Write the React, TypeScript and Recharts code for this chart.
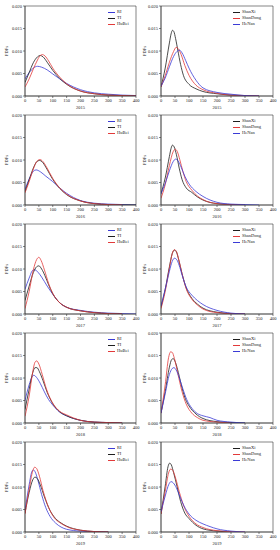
import { LineChart, Line, XAxis, YAxis, ReferenceArea } from "recharts";

// [x, PDF] pairs
const ri2015 = [[0, 0.0038], [15, 0.0052], [30, 0.0062], [45, 0.0066], [60, 0.0064], [80, 0.0058], [100, 0.0049], [125, 0.0038], [150, 0.0028], [200, 0.0014], [250, 0.0007], [300, 0.0004], [350, 0.0002], [400, 0.0001]];
const ti2015 = [[0, 0.003], [15, 0.0052], [30, 0.0074], [45, 0.0087], [55, 0.009], [65, 0.0087], [80, 0.0075], [100, 0.0057], [125, 0.0039], [150, 0.0026], [200, 0.0011], [250, 0.0005], [300, 0.0002], [350, 0.0001], [400, 0]];
const hubei2015 = [[0, 0.002], [15, 0.0038], [30, 0.006], [45, 0.008], [55, 0.009], [63, 0.0092], [72, 0.0089], [85, 0.0078], [100, 0.0062], [125, 0.0042], [150, 0.0027], [200, 0.0011], [250, 0.0005], [300, 0.0002], [350, 0.0001], [400, 0]];
const shanxi2015 = [[0, 0.002], [15, 0.0062], [30, 0.0118], [36, 0.0138], [41, 0.0146], [46, 0.0143], [52, 0.0128], [60, 0.0102], [70, 0.007], [80, 0.0046], [100, 0.0026], [125, 0.0016], [150, 0.001], [200, 0.0005], [250, 0.0002], [300, 0.0001], [350, 0]];
const shandong2015 = [[0, 0.002], [15, 0.0045], [30, 0.0075], [45, 0.0099], [54, 0.0108], [62, 0.0105], [72, 0.0092], [85, 0.0068], [100, 0.0046], [125, 0.0024], [150, 0.0014], [200, 0.0006], [250, 0.0002], [300, 0.0001], [350, 0]];
const henan2015 = [[0, 0.0022], [15, 0.004], [30, 0.0065], [45, 0.0088], [57, 0.0099], [66, 0.0102], [75, 0.0096], [88, 0.0079], [100, 0.0062], [125, 0.0035], [150, 0.0018], [200, 0.0008], [250, 0.0004], [300, 0.0001], [350, 0]];

const ri2016 = [[0, 0.0035], [15, 0.0058], [30, 0.0075], [40, 0.0078], [55, 0.0074], [75, 0.0064], [100, 0.0052], [125, 0.0038], [150, 0.0026], [200, 0.001], [250, 0.0004], [300, 0.0002], [350, 0.0001], [400, 0]];
const ti2016 = [[0, 0.003], [15, 0.0056], [30, 0.0082], [42, 0.0096], [52, 0.0099], [62, 0.0096], [75, 0.0084], [100, 0.0057], [125, 0.0037], [150, 0.0023], [200, 0.0009], [250, 0.0003], [300, 0.0001], [350, 0], [400, 0]];
const hubei2016 = [[0, 0.0027], [15, 0.0052], [30, 0.008], [43, 0.0097], [54, 0.0101], [64, 0.0097], [77, 0.0085], [100, 0.0059], [125, 0.0038], [150, 0.0024], [200, 0.0009], [250, 0.0003], [300, 0.0001], [350, 0]];
const shanxi2016 = [[0, 0.0025], [15, 0.006], [30, 0.0108], [36, 0.0126], [41, 0.0133], [47, 0.0129], [55, 0.0112], [65, 0.0082], [75, 0.0057], [90, 0.0038], [110, 0.0028], [130, 0.0018], [150, 0.0011], [200, 0.0003], [250, 0.0001], [300, 0]];
const shandong2016 = [[0, 0.0015], [15, 0.0045], [30, 0.0088], [43, 0.0118], [51, 0.0124], [58, 0.0119], [67, 0.0101], [78, 0.0075], [90, 0.0052], [110, 0.0033], [130, 0.002], [150, 0.0012], [200, 0.0003], [250, 0.0001], [300, 0]];
const henan2016 = [[0, 0.0025], [15, 0.0048], [30, 0.0076], [43, 0.0096], [52, 0.0102], [61, 0.0098], [72, 0.0084], [85, 0.0064], [100, 0.0047], [125, 0.003], [150, 0.0019], [200, 0.0006], [250, 0.0002], [300, 0.0001], [350, 0]];

const ri2017 = [[0, 0.0055], [15, 0.008], [28, 0.0097], [36, 0.0098], [48, 0.0092], [60, 0.0082], [80, 0.0062], [100, 0.0044], [125, 0.0025], [150, 0.0015], [200, 0.0008], [250, 0.0004], [300, 0.0002], [350, 0.0001], [400, 0]];
const ti2017 = [[0, 0.003], [15, 0.0062], [30, 0.0092], [42, 0.0105], [50, 0.0107], [60, 0.01], [72, 0.0085], [85, 0.0065], [100, 0.0045], [125, 0.0025], [150, 0.0015], [200, 0.0007], [250, 0.0003], [300, 0.0001], [350, 0]];
const hubei2017 = [[0, 0.0012], [15, 0.005], [30, 0.0098], [42, 0.0121], [50, 0.0126], [58, 0.0119], [70, 0.0098], [85, 0.0068], [100, 0.0046], [125, 0.0025], [150, 0.0015], [200, 0.0007], [250, 0.0003], [300, 0.0001], [350, 0]];
const shanxi2017 = [[0, 0.0015], [15, 0.0055], [30, 0.0105], [40, 0.0134], [48, 0.0142], [55, 0.0138], [63, 0.0121], [75, 0.009], [90, 0.0058], [110, 0.0035], [130, 0.0022], [150, 0.0013], [200, 0.0004], [250, 0.0001], [300, 0]];
const shandong2017 = [[0, 0.0012], [15, 0.005], [30, 0.0102], [40, 0.0134], [48, 0.0143], [55, 0.0139], [63, 0.0122], [75, 0.009], [90, 0.0056], [110, 0.0033], [130, 0.002], [150, 0.0011], [200, 0.0003], [250, 0.0001], [300, 0]];
const henan2017 = [[0, 0.0018], [15, 0.0055], [30, 0.0095], [40, 0.0117], [48, 0.0124], [56, 0.0121], [65, 0.0108], [75, 0.0087], [90, 0.006], [110, 0.0042], [130, 0.003], [150, 0.0021], [200, 0.0008], [250, 0.0002], [300, 0]];

const ri2018 = [[0, 0.005], [15, 0.0085], [25, 0.0102], [32, 0.0106], [42, 0.0101], [55, 0.0088], [70, 0.0069], [85, 0.0052], [100, 0.004], [125, 0.0024], [150, 0.0016], [200, 0.0006], [250, 0.0002], [300, 0.0001], [350, 0]];
const ti2018 = [[0, 0.003], [15, 0.0075], [28, 0.0112], [36, 0.0123], [43, 0.0123], [52, 0.0114], [65, 0.0094], [80, 0.0068], [100, 0.0043], [125, 0.0025], [150, 0.0016], [200, 0.0006], [250, 0.0002], [300, 0.0001], [350, 0]];
const hubei2018 = [[0, 0.0015], [15, 0.006], [28, 0.0114], [36, 0.0135], [42, 0.0138], [50, 0.0131], [62, 0.0108], [77, 0.0076], [100, 0.0044], [125, 0.0026], [150, 0.0018], [200, 0.0006], [250, 0.0002], [300, 0.0001], [350, 0]];
const shanxi2018 = [[0, 0.0022], [15, 0.007], [30, 0.0124], [38, 0.0141], [44, 0.0143], [52, 0.0134], [62, 0.0112], [75, 0.0078], [88, 0.0052], [100, 0.0038], [125, 0.002], [150, 0.001], [200, 0.0003], [250, 0.0001], [300, 0]];
const shandong2018 = [[0, 0.0022], [15, 0.0085], [27, 0.0145], [34, 0.0158], [40, 0.0157], [48, 0.0143], [60, 0.011], [75, 0.007], [90, 0.0042], [110, 0.0022], [130, 0.0012], [150, 0.0006], [200, 0.0002], [250, 0]];
const henan2018 = [[0, 0.0022], [15, 0.0065], [30, 0.0108], [40, 0.0121], [46, 0.0123], [54, 0.0118], [65, 0.0101], [78, 0.0076], [92, 0.0052], [110, 0.0033], [130, 0.0021], [150, 0.0016], [175, 0.0012], [200, 0.0006], [250, 0.0002], [300, 0]];

const ri2019 = [[0, 0.0048], [15, 0.0105], [24, 0.0133], [30, 0.0138], [37, 0.0133], [47, 0.0114], [60, 0.0083], [75, 0.0054], [90, 0.0035], [110, 0.002], [130, 0.0011], [150, 0.0006], [200, 0.0002], [250, 0.0001], [300, 0]];
const ti2019 = [[0, 0.0042], [15, 0.0088], [28, 0.0116], [36, 0.0122], [44, 0.0119], [55, 0.0105], [70, 0.0078], [90, 0.0048], [110, 0.003], [130, 0.002], [150, 0.0013], [200, 0.0004], [250, 0.0001], [300, 0]];
const hubei2019 = [[0, 0.004], [15, 0.0095], [28, 0.0136], [35, 0.0144], [42, 0.0141], [52, 0.0124], [65, 0.0092], [85, 0.0055], [105, 0.0032], [130, 0.0019], [150, 0.0012], [200, 0.0004], [250, 0.0001], [300, 0]];
const shanxi2019 = [[0, 0.004], [15, 0.0102], [25, 0.0145], [31, 0.0153], [37, 0.0149], [45, 0.0132], [57, 0.0102], [70, 0.0068], [85, 0.0042], [100, 0.003], [125, 0.0015], [150, 0.0007], [200, 0.0002], [250, 0]];
const shandong2019 = [[0, 0.004], [15, 0.009], [27, 0.0131], [35, 0.014], [42, 0.0137], [52, 0.012], [65, 0.009], [80, 0.006], [100, 0.0035], [125, 0.0018], [150, 0.001], [200, 0.0003], [250, 0.0001], [300, 0]];
const henan2019 = [[0, 0.0045], [15, 0.008], [28, 0.0106], [36, 0.0112], [44, 0.0109], [55, 0.0098], [68, 0.0078], [82, 0.0058], [100, 0.004], [125, 0.0026], [150, 0.0018], [175, 0.0012], [200, 0.0007], [250, 0.0002], [300, 0]];

const years = ["2015", "2016", "2017", "2018", "2019"];
const xTicks = [0, 50, 100, 150, 200, 250, 300, 350, 400];
const yTicks = [0, 0.005, 0.01, 0.015, 0.02];
const leftNames = ["RI", "TI", "HuBei"];
const rightNames = ["ShanXi", "ShanDong", "HeNan"];
const leftColors = ["#3b3bd6", "#1e1e1e", "#e23a3a"];
const rightColors = ["#1e1e1e", "#e23a3a", "#3b3bd6"];

const leftData = [
  [ri2015, ti2015, hubei2015],
  [ri2016, ti2016, hubei2016],
  [ri2017, ti2017, hubei2017],
  [ri2018, ti2018, hubei2018],
  [ri2019, ti2019, hubei2019],
];
const rightData = [
  [shanxi2015, shandong2015, henan2015],
  [shanxi2016, shandong2016, henan2016],
  [shanxi2017, shandong2017, henan2017],
  [shanxi2018, shandong2018, henan2018],
  [shanxi2019, shandong2019, henan2019],
];

const FONT = "'Liberation Serif', 'DejaVu Serif', serif";
const W = 140;
const H = 110;

const toPts = (a: number[][]) => a.map(([x, y]) => ({ x, y }));

function Panel({ year, sets, names, colors, right }: { year: string; sets: number[][][]; names: string[]; colors: string[]; right: boolean }) {
  const yw = right ? 21 : 25;
  const tick = { fontSize: 4.5, fontFamily: FONT, fill: "#222" };
  return (
    <div style={{ position: "relative", width: W, height: H }}>
      <LineChart width={W} height={H} margin={{ top: 6, right: right ? 7 : 4, left: 0, bottom: 0 }}>
        <XAxis
          dataKey="x"
          type="number"
          domain={[0, 400]}
          ticks={xTicks}
          allowDataOverflow
          height={14}
          tickSize={2}
          tickMargin={1}
          tick={tick}
          stroke="#333"
          strokeWidth={0.6}
          interval={0}
          label={{ value: year, position: "insideBottom", offset: 1, fontSize: 4.5, fontFamily: FONT, fill: "#222" }}
        />
        <YAxis
          type="number"
          domain={[0, 0.02]}
          ticks={yTicks}
          allowDataOverflow
          width={yw}
          tickSize={2}
          tickMargin={1}
          tick={tick}
          stroke="#333"
          strokeWidth={0.6}
          interval={0}
          tickFormatter={(v: number) => v.toFixed(3)}
          label={{ value: "PDFs", angle: -90, position: "insideLeft", offset: right ? 4 : 6, fontSize: 4.5, fontFamily: FONT, fill: "#222", style: { textAnchor: "middle" } }}
        />
        <ReferenceArea x1={0} x2={400} y1={0} y2={0.02} fill="none" stroke="#333" strokeWidth={0.6} ifOverflow="visible" />
        {sets.map((s, i) => (
          <Line
            key={names[i]}
            data={toPts(s)}
            dataKey="y"
            type="monotone"
            stroke={colors[i]}
            strokeWidth={0.8}
            dot={false}
            isAnimationActive={false}
          />
        ))}
      </LineChart>
      <div style={{ position: "absolute", left: right ? 93 : 108, top: 9, fontFamily: FONT, fontSize: 4.5, lineHeight: "6px" }}>
        {names.map((n, i) => (
          <div key={n} style={{ display: "flex", alignItems: "center", height: 6 }}>
            <span style={{ display: "inline-block", width: 7, height: 0, borderTop: `0.8px solid ${colors[i]}`, marginRight: 2 }} />
            <span style={{ color: "#222" }}>{n}</span>
          </div>
        ))}
      </div>
    </div>
  );
}

export default function App() {
  return (
    <div style={{ position: "absolute", left: 0, top: 0, width: 280, height: 550, background: "#fff" }}>
      {years.map((y, r) => (
        <div key={y} style={{ position: "absolute", top: r * 109, left: 0, display: "flex" }}>
          <Panel year={y} sets={leftData[r]} names={leftNames} colors={leftColors} right={false} />
          <Panel year={y} sets={rightData[r]} names={rightNames} colors={rightColors} right={true} />
        </div>
      ))}
    </div>
  );
}
